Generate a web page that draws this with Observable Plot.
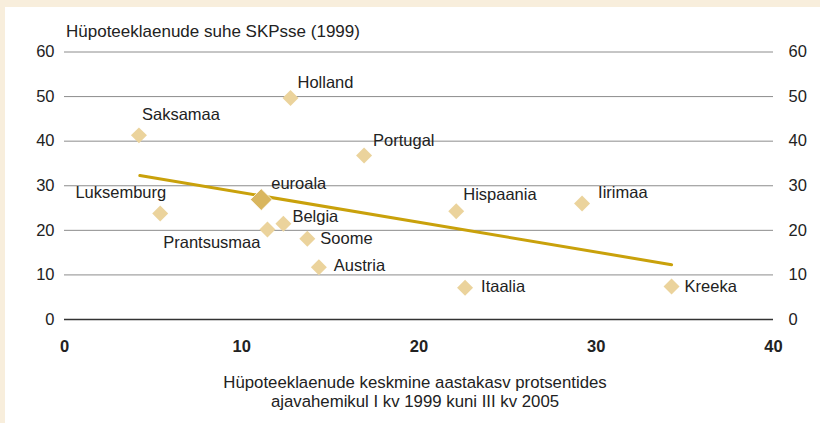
<!DOCTYPE html>
<html><head><meta charset="utf-8">
<script src="https://cdn.jsdelivr.net/npm/d3@7"></script>
<script src="https://cdn.jsdelivr.net/npm/@observablehq/plot@0.6"></script>
<style>
body{margin:0;background:#F8EEDC;font-family:"Liberation Sans",Arial,sans-serif;color:#222;overflow:hidden}
#frame{position:absolute;left:5px;top:7px;width:815px;height:416px;background:#fff}
#chart{position:absolute;left:0;top:0}
#title{position:absolute;left:61px;top:15px;font-size:17px;line-height:20px;white-space:nowrap}
#xlabel{position:absolute;left:0;width:820px;top:366px;text-align:center;font-size:16.8px;line-height:19px}
</style></head><body>
<div id="frame">
<div id="chart"></div>
<div id="title">Hüpoteeklaenude suhe SKPsse (1999)</div>
<div id="xlabel">Hüpoteeklaenude keskmine aastakasv protsentides<br>ajavahemikul I kv 1999 kuni III kv 2005</div>
</div>
<script>
// data
const countries = ["Saksamaa","Holland","Portugal","Luksemburg","euroala","Prantsusmaa","Belgia","Soome","Austria","Hispaania","Iirimaa","Itaalia","Kreeka"];
const growth = [4.2, 12.75, 16.9, 5.4, 11.1, 11.45, 12.35, 13.7, 14.35, 22.1, 29.2, 22.6, 34.25];
const ratio = [41.3, 49.7, 36.8, 23.8, 26.9, 20.2, 21.5, 18.1, 11.7, 24.3, 26.0, 7.1, 7.4];
const trendX = [4.25, 34.25];
const trendY = [32.3, 12.3];
const xTicks = [0, 10, 20, 30, 40];
const yTicks = [0, 10, 20, 30, 40, 50, 60];

// layout of labels (not data)
const labelLayout = {
  "Saksamaa":   {a:"start", dx:3,  dy:-21},
  "Holland":    {a:"start", dx:7,  dy:-15},
  "Portugal":   {a:"start", dx:9,  dy:-15},
  "Luksemburg": {a:"end",   dx:6,  dy:-21},
  "euroala":    {a:"start", dx:10, dy:-16},
  "Prantsusmaa":{a:"end",   dx:-7, dy:13},
  "Belgia":     {a:"start", dx:9,  dy:-7},
  "Soome":      {a:"start", dx:13, dy:0},
  "Austria":    {a:"start", dx:15, dy:-2},
  "Hispaania":  {a:"start", dx:7,  dy:-16},
  "Iirimaa":    {a:"start", dx:16, dy:-11},
  "Itaalia":    {a:"start", dx:16, dy:-1},
  "Kreeka":     {a:"start", dx:13, dy:0}
};

const pts = countries.map((c, i) => ({c, x: growth[i], y: ratio[i]}));
const trend = trendX.map((x, i) => ({x, y: trendY[i]}));

const labelMarks = pts.map(p => {
  const L = labelLayout[p.c];
  return Plot.text([p], {x:"x", y:"y", text:"c", textAnchor:L.a, dx:L.dx, dy:L.dy, fill:"#222", fontSize:16.5});
});

const chart = Plot.plot({
  width: 815, height: 416,
  marginLeft: 59, marginRight: 47, marginTop: 44.5, marginBottom: 104,
  style: {fontFamily: '"Liberation Sans", Arial, sans-serif', fontSize: "16.5px", color: "#222", background: "transparent", overflow: "visible"},
  x: {domain: [0, 40]},
  y: {domain: [0, 60]},
  marks: [
    Plot.ruleY(yTicks.filter(d => d > 0), {stroke: "#8c8c8c", strokeWidth: 1}),
    Plot.ruleY([0], {stroke: "#333", strokeWidth: 1.5}),
    Plot.axisY({anchor: "left", ticks: yTicks, tickSize: 0, tickPadding: 10, label: null}),
    Plot.axisY({anchor: "right", ticks: yTicks, tickSize: 0, tickPadding: 15, label: null}),
    Plot.axisX({ticks: xTicks, tickSize: 0, tickPadding: 21, label: null, fontWeight: "bold"}),
    Plot.line(trend, {x: "x", y: "y", stroke: "#C9A10B", strokeWidth: 3}),
    Plot.dot(pts.filter(p => p.c !== "euroala"), {x: "x", y: "y", symbol: "diamond2", r: 7.2, fill: "#EBD39C", stroke: "none"}),
    Plot.dot(pts.filter(p => p.c === "euroala"), {x: "x", y: "y", symbol: "diamond2", r: 9.8, fill: "#D9B65E", stroke: "#fff", strokeWidth: 0.8}),
    ...labelMarks
  ]
});
document.getElementById("chart").appendChild(chart);
</script>
</body></html>
